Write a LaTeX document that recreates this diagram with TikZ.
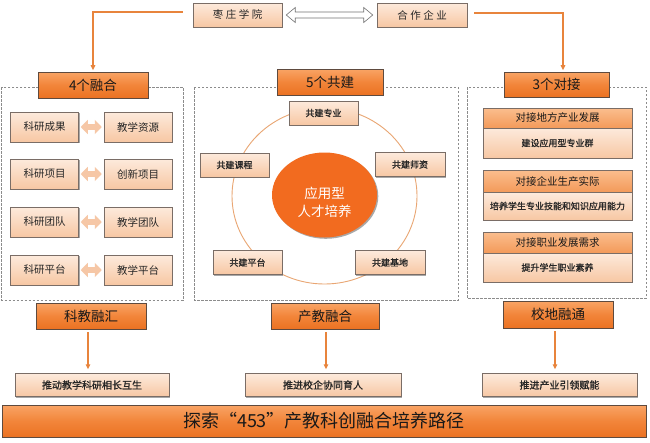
\documentclass[tikz,border=0pt]{standalone}
\usepackage{fontspec}
\newfontfamily\cjk{Noto Sans CJK SC}
\newfontfamily\cjkfb[FakeBold=1.2]{Noto Sans CJK SC}
\usetikzlibrary{arrows.meta,shadows,shapes.geometric}
\definecolor{oTop}{HTML}{F9A465}
\definecolor{oMid}{HTML}{F2853A}
\definecolor{oBot}{HTML}{EB7222}
\definecolor{oBrd}{HTML}{5E4A3E}
\definecolor{pTop}{HTML}{FDEADC}
\definecolor{pBot}{HTML}{F7C7A3}
\definecolor{pBrd}{HTML}{7A6D66}
\definecolor{hTop}{HTML}{FBBE8E}
\definecolor{hBot}{HTML}{F39A5A}
\definecolor{oLine}{HTML}{E8843C}
\definecolor{ringc}{HTML}{E9A673}
\definecolor{corec}{HTML}{F26B1F}
\definecolor{dashgray}{HTML}{8C8C8C}
\definecolor{arrpeach}{HTML}{F6C7A6}
\tikzset{
  shd/.style={drop shadow={shadow xshift=1.3pt,shadow yshift=-1.3pt,opacity=0.45,fill=black!75}},
  obox/.style={shd, draw=oBrd, line width=0.7pt, top color=oTop, bottom color=oBot, middle color=oMid,
    inner sep=0pt, text=black!90, font=\cjk\fontsize{13.5}{15}\selectfont},
  pbox/.style={shd, draw=pBrd, line width=0.5pt, top color=pTop, bottom color=pBot,
    inner sep=0pt, text=black!85},
  hbox/.style={shd, draw=pBrd, line width=0.5pt, top color=hTop, bottom color=hBot,
    inner sep=0pt, text=black!90, font=\cjk\fontsize{10.5}{12}\selectfont},
  lbox/.style={pbox, minimum width=68pt, minimum height=30pt, font=\cjk\fontsize{10.5}{12}\selectfont},
  cbox/.style={pbox, minimum width=69pt, minimum height=24pt, font=\cjkfb\fontsize{9}{10}\selectfont},
  rlow/.style={pbox, minimum width=149pt, font=\cjkfb\fontsize{9}{10}\selectfont},
  bbox/.style={pbox, minimum height=23pt, font=\cjkfb\fontsize{10}{11}\selectfont},
  frame/.style={draw=dashgray, dash pattern=on 2.5pt off 1.5pt, line width=0.6pt},
  oline/.style={draw=oLine, line width=1.6pt, -{Triangle[length=5pt,width=4.5pt]}},
  parrow/.style={draw=arrpeach, line width=6pt, {Triangle[length=7pt,width=14pt]}-{Triangle[length=7pt,width=14pt]}, shorten <=2pt, shorten >=2pt}
}
\begin{document}
\begin{tikzpicture}[x=1pt,y=-1pt]
\useasboundingbox (0,0) rectangle (650,442);
\fill[white] (0,0) rectangle (650,442);

% dashed frames
\draw[frame] (1.5,87) rectangle (183,300);
\draw[frame] (194,87) rectangle (458,300);
\draw[frame] (467,87) rectangle (646,298);

% top boxes
\node[pbox, minimum width=89pt, minimum height=24pt, font=\cjk\fontsize{10.5}{12}\selectfont] (zz) at (237.5,15)
  {枣\hspace{2.5pt}庄\hspace{2.5pt}学\hspace{2.5pt}院};
\node[pbox, minimum width=90pt, minimum height=24pt, font=\cjk\fontsize{10.5}{12}\selectfont] (hz) at (422,15)
  {合\hspace{2.5pt}作\hspace{2.5pt}企\hspace{2.5pt}业};

% hollow double arrow
\path ([xshift=4pt]zz.east) coordinate (da1) ([xshift=-4pt]hz.west) coordinate (da2);
\draw[draw=black!55, fill=white, line width=0.6pt]
  (da1) -- ++(9,-7.5) -- ++(0,4.5) -- ([shift={(-9,-3)}]da2) -- ++(0,-4.5) -- (da2)
  -- ++(-9,7.5) -- ++(0,-4.5) -- ([shift={(9,3)}]da1) -- ++(0,4.5) -- cycle;

% title boxes
\node[obox, minimum width=110pt, minimum height=26pt] (rh) at (93,85) {4个融合};
\node[obox, minimum width=106pt, minimum height=26pt] (gj) at (330,82) {5个共建};
\node[obox, minimum width=105pt, minimum height=25pt] (dj) at (556.5,84.5) {3个对接};

% top connectors
\draw[oline, shorten >=1.5pt] ([shift={(-10,-3)}]zz.west) -| (rh.north);
\draw[oline, shorten >=1.5pt] ([shift={(7,-2)}]hz.east) -| ([xshift=6.5pt]dj.north);

% left column
\node[lbox] (a1) at (44.5,127) {科研成果};
\node[lbox] (b1) at (138,127) {教学资源};
\node[lbox] (a2) at (44.5,174) {科研项目};
\node[lbox] (b2) at (138,174) {创新项目};
\node[lbox] (a3) at (44.5,222) {科研团队};
\node[lbox] (b3) at (138,222) {教学团队};
\node[lbox] (a4) at (44.5,270) {科研平台};
\node[lbox] (b4) at (138,270) {教学平台};
\foreach \i in {1,2,3,4} \draw[parrow] (a\i) -- (b\i);

% middle ring
\draw[draw=ringc, line width=0.9pt] (324.5,196) ellipse [x radius=92.5, y radius=88];
\node[shd, ellipse, fill=corec, minimum width=105pt, minimum height=85pt, inner sep=0pt] (core) at (324.5,195) {};
\node[align=center, text=white, inner sep=0pt, font=\cjk\fontsize{13.5}{18}\selectfont] (coretext) at (324.5,202) {应用型\\人才培养};
\node[cbox] (c1) at (323.5,113) {共建专业};
\node[cbox] (c2) at (234.5,165) {共建课程};
\node[cbox, minimum width=70pt] (c3) at (410,164.5) {共建师资};
\node[cbox] (c4) at (247.5,262.5) {共建平台};
\node[cbox, minimum width=70pt] (c5) at (390,262.5) {共建基地};

% right column
\node[rlow, minimum height=30pt] (r1b) at (557.5,143) {建设应用型专业群};
\node[hbox, minimum width=149pt, minimum height=20pt] (r1a) at (557.5,118) {对接地方产业发展};
\node[rlow, minimum height=28pt] (r2b) at (557.5,206) {培养学生专业技能和知识应用能力};
\node[hbox, minimum width=149pt, minimum height=22pt] (r2a) at (557.5,181) {对接企业生产实际};
\node[rlow, minimum height=29pt] (r3b) at (557.5,267.5) {提升学生职业素养};
\node[hbox, minimum width=149pt, minimum height=21pt] (r3a) at (557.5,242.5) {对接职业发展需求};

% bottom result boxes
\node[obox, minimum width=110pt, minimum height=26pt] (kj) at (91,316) {科教融汇};
\node[obox, minimum width=108pt, minimum height=26pt] (cj) at (325,316) {产教融合};
\node[obox, minimum width=110pt, minimum height=27pt] (xd) at (558,314.5) {校地融通};

\node[bbox, minimum width=154pt] (l1) at (92,385) {推动教学科研相长互生};
\node[bbox, minimum width=156pt] (l2) at (323,385) {推进校企协同育人};
\node[bbox, minimum width=155pt] (l3) at (559.5,385) {推进产业引领赋能};

\draw[oline, shorten <=3pt, shorten >=4pt] ([xshift=-3pt]kj.south) -- ([xshift=-3pt]kj.south |- l1.north);
\draw[oline, shorten <=3pt, shorten >=4pt] ([xshift=1pt]cj.south) -- ([xshift=1pt]cj.south |- l2.north);
\draw[oline, shorten <=3pt, shorten >=4pt] ([xshift=-3pt]xd.south) -- ([xshift=-3pt]xd.south |- l3.north);

% bottom bar
\node[obox, minimum width=644pt, minimum height=32pt, font=\cjk\fontsize{18}{20}\selectfont] (bar) at (324,421)
  {探索“453”产教科创融合培养路径};
\end{tikzpicture}
\end{document}
